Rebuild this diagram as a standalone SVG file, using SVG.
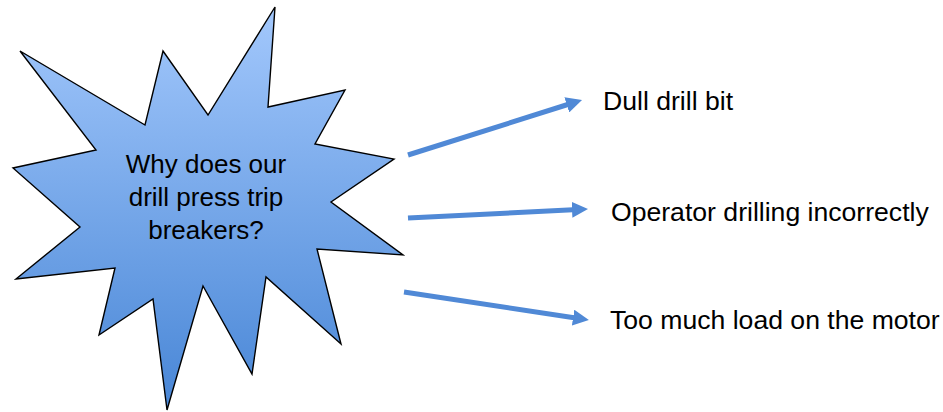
<svg xmlns="http://www.w3.org/2000/svg" width="943" height="412" viewBox="0 0 943 412">
  <style>
    .lbl { font-family: "Liberation Sans", Arial, sans-serif; font-size: 26px; fill: #000; }
    .cause { font-size: 26.6px; }
    .conn { stroke: #5089d6; stroke-width: 5; fill: none; marker-end: url(#ah); }
  </style>
  <defs>
    <linearGradient id="burst" x1="0" y1="0" x2="0" y2="1">
      <stop offset="0" stop-color="#a3c8fc"/>
      <stop offset="1" stop-color="#4886d6"/>
    </linearGradient>
    <marker id="ah" markerUnits="userSpaceOnUse" markerWidth="16" markerHeight="16" refX="6" refY="8" orient="auto" viewBox="0 0 16 16">
      <path d="M0,0 L16,8 L0,16 z" fill="#5089d6"/>
    </marker>
  </defs>
  <rect width="943" height="412" fill="#fff"/>
  <g id="question">
    <polygon points="275,7 268,107 345,90 315,144 394,159 331,202 403,255 317,249 341,344 266,277 252,374 203,286 167,410 153,299 99,335 115,268 16,279 80,227 13,168 96,150 20,51 145,125 163,51 208,115" fill="url(#burst)" stroke="#000" stroke-width="1.4" stroke-linejoin="miter"/>
    <text class="lbl" text-anchor="middle" x="206" y="173">Why does our</text>
    <text class="lbl" text-anchor="middle" x="206" y="206">drill press trip</text>
    <text class="lbl" text-anchor="middle" x="206" y="239">breakers?</text>
  </g>
  <g id="connectors">
    <line class="conn" x1="408" y1="155" x2="572.5" y2="103"/>
    <line class="conn" x1="408" y1="218" x2="578" y2="209.5"/>
    <line class="conn" x1="404" y1="292" x2="579" y2="318.5"/>
  </g>
  <g id="cause1"><text class="lbl cause" x="603" y="110">Dull drill bit</text></g>
  <g id="cause2"><text class="lbl cause" x="611" y="221">Operator drilling incorrectly</text></g>
  <g id="cause3"><text class="lbl cause" x="610" y="329">Too much load on the motor</text></g>
</svg>
